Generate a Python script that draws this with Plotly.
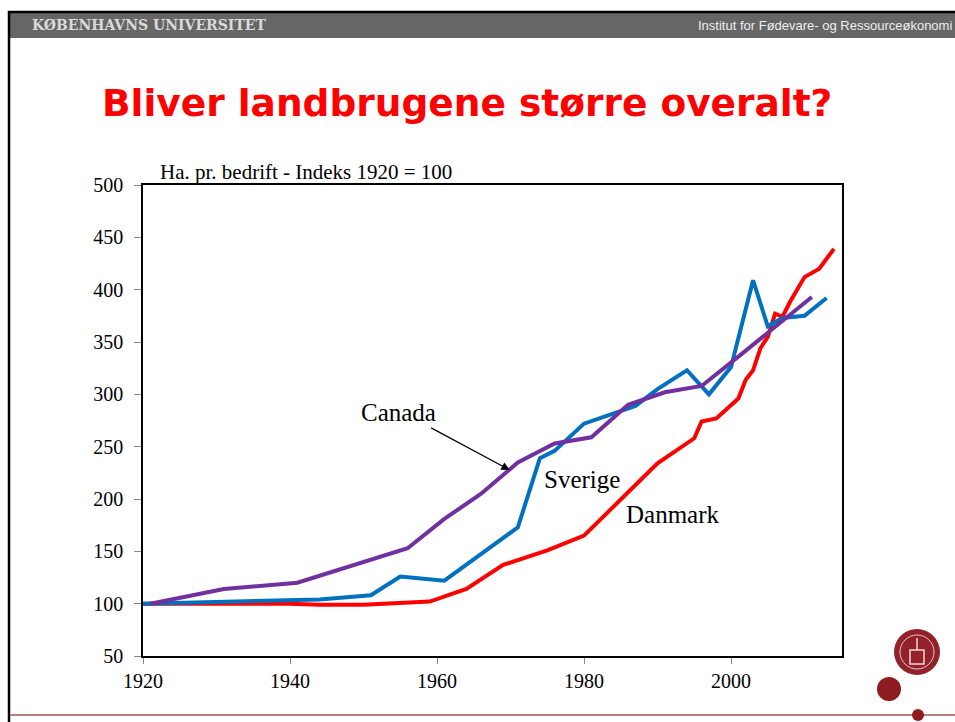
import plotly.graph_objects as go

W, H = 955, 722

# ---- data ----
dk_years = [1920, 1940, 1944, 1950, 1959, 1964, 1969, 1975, 1980, 1990, 1995, 1996, 1998,
            2001, 2002, 2003, 2004, 2005, 2006, 2007, 2008, 2010, 2012, 2014]
dk_values = [100, 100, 99, 99, 102, 114, 137, 151, 165, 234, 258, 274, 277,
             296, 314, 323, 344, 355, 377, 374, 388, 412, 420, 439]

se_years = [1920, 1944, 1951, 1955, 1961, 1971, 1974, 1976, 1980, 1987, 1990, 1992, 1993,
            1994, 1997, 2000, 2003, 2005, 2007, 2010, 2013]
se_values = [100, 104, 108, 126, 122, 173, 239, 246, 272, 289, 305, 314, 318,
             323, 300, 326, 409, 365, 373, 375, 392]

ca_years = [1921, 1931, 1941, 1951, 1956, 1961, 1966, 1971, 1976, 1981, 1986, 1991, 1996,
            2001, 2006, 2011]
ca_values = [100, 114, 120, 142, 153, 181, 205, 235, 253, 259, 290, 302, 308,
             336, 365, 393]

x_ticks = [1920, 1940, 1960, 1980, 2000]
y_ticks = [50, 100, 150, 200, 250, 300, 350, 400, 450, 500]


def px(x):
    return x / W


def py(y):
    return 1 - y / H


fig = go.Figure()
fig.add_trace(go.Scatter(x=dk_years, y=dk_values, mode="lines", name="Danmark",
                         line=dict(color="#FF0000", width=4)))
fig.add_trace(go.Scatter(x=se_years, y=se_values, mode="lines", name="Sverige",
                         line=dict(color="#0070C0", width=4)))
fig.add_trace(go.Scatter(x=ca_years, y=ca_values, mode="lines", name="Canada",
                         line=dict(color="#7030A0", width=4)))

serif = "Liberation Serif, Times New Roman, serif"

fig.update_layout(
    width=W, height=H,
    margin=dict(l=0, r=0, t=0, b=0, autoexpand=False),
    paper_bgcolor="white", plot_bgcolor="white",
    showlegend=False,
    xaxis=dict(domain=[px(143), px(842)], range=[1920, 2015.1], automargin=False,
               tickvals=x_ticks, ticktext=[str(v) for v in x_ticks],
               showgrid=False, zeroline=False,
               showline=True, linecolor="black", linewidth=1.5, mirror=True,
               ticks="outside", ticklen=6, tickcolor="#888888",
               tickfont=dict(family=serif, size=20, color="black")),
    yaxis=dict(domain=[py(656), py(185)], range=[50, 500], automargin=False,
               tickvals=y_ticks, ticktext=[str(v) for v in y_ticks],
               showgrid=False, zeroline=False,
               showline=True, linecolor="black", linewidth=1.5, mirror=True,
               ticks="outside", ticklen=7, tickcolor="#888888",
               ticklabelstandoff=7,
               tickfont=dict(family=serif, size=20, color="black")),
)

shapes = []
# header bar
shapes.append(dict(type="rect", xref="paper", yref="paper",
                   x0=px(8), x1=px(955), y0=py(38), y1=py(11),
                   fillcolor="#666666", line=dict(width=0), layer="below"))
shapes.append(dict(type="line", xref="paper", yref="paper",
                   x0=px(8), x1=px(955), y0=py(12), y1=py(12),
                   line=dict(color="black", width=2.5)))
# left border
shapes.append(dict(type="line", xref="paper", yref="paper",
                   x0=px(9), x1=px(9), y0=py(11), y1=py(722),
                   line=dict(color="black", width=2.5)))
# bottom line
shapes.append(dict(type="line", xref="paper", yref="paper",
                   x0=px(10), x1=px(955), y0=py(715), y1=py(715),
                   line=dict(color="#B98080", width=2)))


def circ(cx, cy, r, fill, line_color=None, lw=0):
    return dict(type="circle", xref="paper", yref="paper",
                x0=px(cx - r), x1=px(cx + r), y0=py(cy + r), y1=py(cy - r),
                fillcolor=fill, line=dict(color=line_color or fill, width=lw))


shapes.append(circ(918, 715, 6, "#8E1B20"))
shapes.append(circ(889, 689, 12, "#8E1B20"))
shapes.append(circ(917, 652, 23, "#93212A"))
shapes.append(circ(917, 652, 17, "rgba(0,0,0,0)", "#E8C8C8", 1))
shapes.append(dict(type="rect", xref="paper", yref="paper",
                   x0=px(910), x1=px(924), y0=py(664), y1=py(650),
                   fillcolor="rgba(0,0,0,0)", line=dict(color="#F0D8D8", width=1.5)))
shapes.append(dict(type="line", xref="paper", yref="paper",
                   x0=px(917), x1=px(917), y0=py(650), y1=py(638),
                   line=dict(color="#F0D8D8", width=1.5)))
fig.update_layout(shapes=shapes)

annotations = [
    dict(xref="paper", yref="paper", x=px(30), y=py(25), xanchor="left", yanchor="middle",
         text="KØBENHAVNS UNIVERSITET", showarrow=False,
         font=dict(family="DejaVu Serif, serif", size=14, color="#DADADA", weight="bold")),
    dict(xref="paper", yref="paper", x=px(954), y=py(25), xanchor="right", yanchor="middle",
         text="Institut for Fødevare- og Ressourceøkonomi", showarrow=False,
         font=dict(family="Liberation Sans, Arial, sans-serif", size=13, color="#EEEEEE")),
    dict(xref="paper", yref="paper", x=px(467), y=py(103), xanchor="center", yanchor="middle",
         text="<b>Bliver landbrugene større overalt?</b>", showarrow=False,
         font=dict(family="DejaVu Sans, Verdana, sans-serif", size=37.5, color="#FF0000")),
    dict(xref="paper", yref="paper", x=px(158), y=py(172), xanchor="left", yanchor="middle",
         text="Ha. pr. bedrift - Indeks 1920 = 100", showarrow=False,
         font=dict(family=serif, size=21, color="black")),
    dict(xref="x", yref="y", x=1920 + (398 - 143) / 7.35, y=100 + (603.6 - 412) / 1.0467,
         text="Canada", showarrow=False, xanchor="center", yanchor="middle",
         font=dict(family=serif, size=25, color="black")),
    dict(xref="x", yref="y", x=1920 + (582 - 143) / 7.35, y=100 + (603.6 - 479) / 1.0467,
         text="Sverige", showarrow=False, xanchor="center", yanchor="middle",
         font=dict(family=serif, size=25, color="black")),
    dict(xref="x", yref="y", x=1920 + (673 - 143) / 7.35, y=100 + (603.6 - 514) / 1.0467,
         text="Danmark", showarrow=False, xanchor="center", yanchor="middle",
         font=dict(family=serif, size=25, color="black")),
    dict(xref="x", yref="y", axref="x", ayref="y",
         x=1969.9, y=227.6, ax=1959.0, ay=268.7, text="", showarrow=True,
         arrowhead=2, arrowsize=1.4, arrowwidth=1.2, arrowcolor="black", standoff=0),
]
fig.update_layout(annotations=annotations)

fig.write_html(
    "out.html",
    config={"displayModeBar": False},
    post_script="document.body.style.margin='0';document.body.style.overflow='hidden';",
)
